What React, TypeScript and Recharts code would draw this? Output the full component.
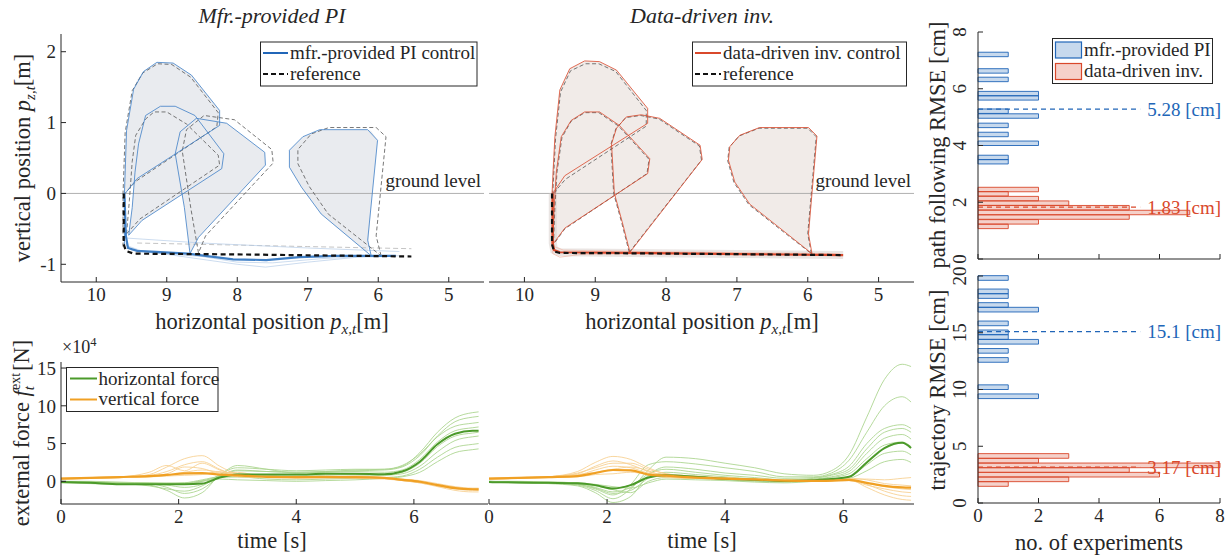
import React from 'react';
import { ComposedChart, Line, Area, XAxis, YAxis, ReferenceLine, ReferenceArea } from 'recharts';

const FONT = '"Liberation Serif", "Times New Roman", serif';
const INK = '#262626';
const BLUE = '#2166b8';
const BLUE_THIN = '#3f7fc6';
const RED = '#d9482b';
const GREEN = '#4b9a2a';
const GREEN_LIGHT = '#a9d38c';
const ORANGE = '#f0a024';
const ORANGE_LIGHT = '#f7cf8e';

type Pt = [number, number];
type Band = [number, number, number];

// ---- tick values ----
const TRAJ_X_TICKS = [5, 6, 7, 8, 9, 10];
const TRAJ_Y_TICKS = [-1, 0, 1, 2];
const FORCE_Y_TICKS = [0, 5, 10, 15];
const TIME_TICKS = [0, 2, 4, 6];
const HIST_X_TICKS = [0, 2, 4, 6, 8];
const PATH_RMSE_TICKS = [0, 2, 4, 6, 8];
const TRAJ_RMSE_TICKS = [0, 5, 10, 15, 20];

// ---- mfr.-provided PI trajectories [px, pz] ----
const piFillA: Band[] = [[9.6, 0, 0.3], [9.57, 0.03, 0.89], [9.47, 0.16, 1.47], [9.42, 0.21, 1.6], [9.33, 0.27, 1.72], [9.14, 0.39, 1.85], [8.91, 0.54, 1.84], [8.65, 0.7, 1.67], [8.25, 0.96, 1.17]];
const piFillB: Band[] = [[9.54, -0.59, -0.59], [9.49, -0.53, -0.2], [9.45, -0.48, 0.3], [9.4, -0.43, 0.7], [9.35, -0.38, 0.95], [9.3, -0.35, 1.1], [9.09, -0.21, 1.23], [8.88, -0.08, 1.23], [8.6, 0.1, 1.1], [8.22, 0.35, 0.6]];
const piFillC: Band[] = [[8.88, 0.56, 0.56], [8.81, 0.15, 0.87], [8.75, -0.2, 0.92], [8.67, -0.85, 0.99], [8.58, -0.68, 1.06], [8.55, -0.62, 1.06], [8.15, -0.19, 0.99], [7.61, 0.39, 0.58], [7.6, 0.4, 0.4]];
const piFillD: Band[] = [[7.26, 0.37, 0.61], [7.07, 0.06, 0.8], [6.81, -0.29, 0.9], [6.5, -0.55, 0.9], [6.15, -0.84, 0.9], [6.1, -0.16, 0.88], [6.01, 0.75, 0.75]];

const piCtrlA: Pt[] = [[9.6, -0.75], [9.6, 0.0], [9.57, 0.89], [9.47, 1.47], [9.33, 1.72], [9.14, 1.85], [8.91, 1.84], [8.65, 1.67], [8.25, 1.17], [8.25, 0.96], [9.42, 0.21], [9.59, 0.0]];
const piRefA: Pt[] = [[9.62, -0.75], [9.62, 0.0], [9.59, 0.86], [9.49, 1.45], [9.34, 1.7], [9.13, 1.83], [8.93, 1.82], [8.66, 1.64], [8.27, 1.14], [8.29, 0.94], [9.44, 0.17], [9.61, -0.02]];
const piCtrlB: Pt[] = [[9.54, -0.59], [9.49, -0.2], [9.45, 0.3], [9.4, 0.7], [9.3, 1.1], [9.09, 1.23], [8.88, 1.23], [8.6, 1.1], [8.19, 0.56], [8.22, 0.35], [9.35, -0.38], [9.54, -0.59]];
const piRefB: Pt[] = [[9.57, -0.57], [9.53, -0.1], [9.49, 0.45], [9.44, 0.82], [9.3, 1.05], [9.18, 1.15], [9.0, 1.15], [8.72, 0.98], [8.27, 0.54], [8.25, 0.4], [9.38, -0.36], [9.57, -0.57]];
const piCtrlC: Pt[] = [[8.67, -0.85], [8.75, -0.2], [8.88, 0.56], [8.81, 0.87], [8.58, 1.06], [8.15, 0.99], [7.61, 0.58], [7.6, 0.4], [8.55, -0.62], [8.67, -0.85]];
const piRefC: Pt[] = [[8.55, -0.84], [8.66, -0.2], [8.78, 0.6], [8.72, 0.9], [8.47, 1.1], [8.04, 1.04], [7.51, 0.62], [7.49, 0.43], [8.45, -0.6], [8.55, -0.84]];
const piCtrlD: Pt[] = [[6.1, -0.88], [6.15, -0.66], [6.01, 0.75], [6.15, 0.9], [6.83, 0.9], [7.07, 0.8], [7.26, 0.61], [7.26, 0.37], [7.09, 0.09], [6.81, -0.29], [6.1, -0.88]];
const piRefD: Pt[] = [[5.96, -0.88], [6.03, -0.6], [5.89, 0.8], [6.03, 0.93], [6.7, 0.93], [6.95, 0.84], [7.14, 0.62], [7.14, 0.42], [6.98, 0.1], [6.71, -0.29], [5.96, -0.88]];

const piRefPath: Pt[] = [[9.61, 0.0], [9.61, -0.72], [9.58, -0.81], [9.47, -0.85], [8.06, -0.86], [5.53, -0.89]];
const piMeanPath: Pt[] = [[9.6, 0.0], [9.58, -0.6], [9.55, -0.77], [9.42, -0.81], [8.7, -0.85], [8.06, -0.93], [7.59, -0.94], [7.12, -0.9], [6.6, -0.88], [5.75, -0.88]];
const piRun1: Pt[] = [[9.6, -0.7], [9.5, -0.8], [9.0, -0.86], [8.0, -1.0], [7.6, -1.04], [7.0, -0.97], [6.3, -0.9], [5.8, -0.89]];
const piRun2: Pt[] = [[9.56, -0.74], [9.3, -0.83], [8.5, -0.89], [8.0, -0.97], [7.5, -0.98], [6.8, -0.92], [6.0, -0.88], [5.7, -0.88]];
const piRun3: Pt[] = [[9.57, -0.63], [8.5, -0.7], [7.0, -0.77], [5.7, -0.82]];
const piRefRun: Pt[] = [[9.42, -0.7], [7.0, -0.75], [5.53, -0.78]];

// ---- data-driven inv. trajectories ----
const ddFillA: Band[] = [[9.61, 0, 0.3], [9.57, 0.04, 0.8], [9.5, 0.13, 1.46], [9.43, 0.25, 1.62], [9.36, 0.29, 1.76], [9.15, 0.43, 1.87], [8.94, 0.56, 1.86], [8.7, 0.72, 1.74], [8.26, 0.99, 1.2]];
const ddFillB: Band[] = [[9.6, -0.72, -0.72], [9.58, -0.69, -0.2], [9.55, -0.65, 0.3], [9.48, -0.56, 0.8], [9.43, -0.49, 0.92], [9.34, -0.43, 1.03], [9.15, -0.31, 1.15], [8.94, -0.18, 1.15], [8.66, 0.0, 0.96], [8.26, 0.28, 0.52]];
const ddFillC: Band[] = [[8.77, 0.7, 0.7], [8.73, 0.0, 0.78], [8.7, -0.12, 0.92], [8.62, -0.4, 1.02], [8.56, -0.62, 1.08], [8.51, -0.83, 1.09], [8.35, -0.62, 1.11], [8.09, -0.29, 1.06], [7.52, 0.44, 0.68], [7.49, 0.48, 0.48]];
const ddFillD: Band[] = [[7.12, 0.47, 0.47], [7.1, 0.4, 0.66], [7.03, 0.16, 0.75], [6.96, 0.06, 0.82], [6.82, -0.15, 0.88], [6.68, -0.26, 0.93], [6.3, -0.56, 0.93], [5.99, -0.81, 0.93], [5.94, 0.0, 0.88], [5.87, 0.81, 0.81]];

const ddCtrlA: Pt[] = [[9.61, -0.75], [9.61, 0.0], [9.57, 0.8], [9.5, 1.46], [9.36, 1.76], [9.15, 1.87], [8.94, 1.86], [8.7, 1.74], [8.26, 1.2], [8.26, 0.99], [9.43, 0.25], [9.6, 0.0]];
const ddRefA: Pt[] = [[9.6, -0.75], [9.6, 0.0], [9.56, 0.78], [9.49, 1.43], [9.35, 1.73], [9.14, 1.83], [8.95, 1.83], [8.71, 1.72], [8.28, 1.17], [8.28, 0.95], [9.42, 0.2], [9.59, 0.0]];
const ddCtrlB: Pt[] = [[9.6, -0.72], [9.58, -0.2], [9.55, 0.3], [9.48, 0.8], [9.34, 1.03], [9.15, 1.15], [8.94, 1.15], [8.66, 0.96], [8.23, 0.49], [8.26, 0.28], [9.43, -0.49], [9.6, -0.72]];
const ddRefB: Pt[] = [[9.59, -0.72], [9.57, -0.2], [9.54, 0.3], [9.47, 0.79], [9.34, 1.02], [9.15, 1.14], [8.95, 1.14], [8.67, 0.95], [8.24, 0.48], [8.27, 0.28], [9.43, -0.5], [9.59, -0.72]];
const ddCtrlC: Pt[] = [[8.51, -0.83], [8.62, -0.4], [8.73, 0.0], [8.77, 0.7], [8.7, 0.92], [8.56, 1.08], [8.35, 1.11], [8.09, 1.06], [7.52, 0.68], [7.49, 0.48], [8.51, -0.83]];
const ddRefC: Pt[] = [[8.52, -0.83], [8.63, -0.4], [8.74, 0.0], [8.78, 0.69], [8.71, 0.91], [8.57, 1.07], [8.36, 1.1], [8.1, 1.05], [7.53, 0.67], [7.5, 0.47], [8.52, -0.83]];
const ddCtrlD: Pt[] = [[5.94, -0.85], [5.99, -0.57], [5.87, 0.81], [5.99, 0.93], [6.68, 0.93], [6.96, 0.82], [7.1, 0.66], [7.12, 0.47], [7.03, 0.16], [6.82, -0.15], [5.94, -0.85]];
const ddRefD: Pt[] = [[5.95, -0.85], [6.0, -0.57], [5.88, 0.8], [6.0, 0.92], [6.69, 0.92], [6.97, 0.81], [7.11, 0.65], [7.13, 0.46], [7.04, 0.15], [6.83, -0.16], [5.95, -0.85]];

const ddRefPath: Pt[] = [[9.61, 0.0], [9.61, -0.72], [9.58, -0.82], [9.5, -0.84], [8.5, -0.845], [5.5, -0.87]];
const ddMeanPath: Pt[] = [[9.6, 0.0], [9.6, -0.7], [9.58, -0.8], [9.5, -0.83], [8.5, -0.84], [5.5, -0.87]];
const ddRun1: Pt[] = [[9.62, -0.6], [9.6, -0.85], [9.5, -0.9], [9.2, -0.86], [8.0, -0.85], [5.6, -0.86]];
const ddRun2: Pt[] = [[9.58, -0.75], [9.45, -0.8], [9.0, -0.81], [7.5, -0.83], [5.55, -0.85]];

// ---- external forces (x 1e4 N) ----
const piTime = [0, 0.5, 1, 1.5, 1.8, 2.1, 2.4, 2.7, 3, 3.5, 4, 4.5, 5, 5.5, 5.8, 6.1, 6.4, 6.7, 7, 7.1];
const piHMean = [-0.1, -0.2, -0.4, -0.4, -0.4, -0.4, -0.3, 0.5, 0.9, 0.9, 0.9, 1.0, 1.0, 0.95, 1.3, 2.6, 4.9, 6.3, 6.7, 6.7];
const piVMean = [0.35, 0.45, 0.57, 0.7, 0.85, 1.05, 1.1, 0.9, 0.8, 0.6, 0.57, 0.57, 0.57, 0.45, 0.2, -0.05, -0.5, -0.9, -1.05, -1.06];
const piHRuns = [
  [0, -0.1, -0.3, -0.5, -1.2, -2.2, -1.5, 0.8, 1.8, 1.6, 1.4, 1.5, 1.6, 1.6, 2.0, 3.8, 6.5, 8.4, 9.1, 9.2],
  [0, -0.1, -0.2, -0.3, -0.8, -1.6, -1.0, 0.6, 1.4, 1.3, 1.2, 1.3, 1.4, 1.5, 1.9, 3.4, 6.0, 7.9, 8.5, 8.6],
  [-0.2, -0.3, -0.4, -0.4, -0.5, -0.8, -0.4, 0.9, 2.1, 1.6, 1.1, 1.2, 1.3, 1.2, 1.5, 2.9, 5.2, 6.7, 7.1, 7.2],
  [-0.1, -0.2, -0.3, -0.4, -0.4, -0.4, 0.0, 0.7, 1.0, 0.8, 0.7, 0.8, 0.9, 0.9, 1.2, 2.4, 4.6, 6.0, 6.4, 6.5],
  [0, -0.1, -0.2, -0.2, -0.3, -0.3, 0.1, 0.5, 0.6, 0.5, 0.5, 0.6, 0.7, 0.8, 1.0, 2.0, 3.9, 5.4, 5.9, 6.0],
  [-0.1, -0.1, -0.2, -0.3, -0.3, -0.2, 0.2, 0.6, 0.6, 0.3, 0.2, 0.3, 0.4, 0.5, 0.7, 1.6, 3.2, 4.5, 4.9, 5.0],
  [0, 0, -0.1, -0.2, -0.2, -0.2, 0.0, 0.3, 0.2, 0.1, 0.0, 0.1, 0.2, 0.4, 0.6, 1.2, 2.6, 3.8, 4.2, 4.3],
  [-0.1, -0.2, -0.3, -0.6, -1.0, -1.3, -0.6, 0.7, 1.5, 1.3, 1.2, 1.3, 1.5, 1.6, 2.1, 3.6, 5.9, 7.3, 7.7, 7.8],
];
const piVRuns = [
  [0.3, 0.4, 0.5, 0.9, 1.9, 3.0, 3.4, 2.0, 1.0, 0.7, 0.6, 0.6, 0.5, 0.4, 0.2, -0.1, -0.6, -1.0, -1.2, -1.2],
  [0.4, 0.5, 0.6, 1.2, 2.1, 1.4, 2.4, 1.5, 0.9, 0.7, 0.6, 0.7, 0.6, 0.5, 0.3, 0.0, -0.4, -0.8, -1.0, -1.0],
  [0.3, 0.4, 0.5, 0.7, 1.0, 1.9, 1.7, 1.1, 1.2, 0.5, 0.4, 0.5, 0.5, 0.4, 0.1, -0.2, -0.7, -1.2, -1.4, -1.4],
  [0.4, 0.5, 0.6, 0.6, 0.7, 0.8, 0.9, 1.3, 0.7, 0.6, 0.7, 0.6, 0.7, 0.5, 0.3, 0.1, -0.3, -0.7, -0.9, -0.9],
  [0.3, 0.4, 0.5, 0.6, 0.8, 1.2, 1.5, 1.2, 0.6, 0.5, 0.5, 0.5, 0.4, 0.3, 0.1, -0.2, -0.6, -0.9, -1.1, -1.1],
  [0.4, 0.5, 0.6, 0.8, 1.3, 2.2, 2.6, 1.6, 0.8, 0.6, 0.6, 0.6, 0.6, 0.5, 0.2, -0.1, -0.5, -0.9, -1.0, -1.0],
];

const ddTime = [0, 0.5, 1, 1.5, 1.8, 2.1, 2.4, 2.7, 3, 3.5, 4, 4.5, 5, 5.5, 5.8, 6.1, 6.4, 6.7, 7, 7.15];
const ddHMean = [-0.1, -0.15, -0.2, -0.25, -0.5, -0.95, -0.5, 0.5, 0.8, 0.6, 0.35, 0.2, 0.05, 0.15, 0.3, 0.6, 2.5, 4.4, 5.1, 4.4];
const ddVMean = [0.35, 0.45, 0.57, 0.7, 1.1, 1.5, 1.45, 0.9, 0.75, 0.5, 0.35, 0.25, 0.1, 0.05, 0.1, 0.2, -0.2, -0.6, -0.8, -0.84];
const ddHRuns = [
  [-0.1, -0.1, -0.2, -0.5, -1.2, -2.3, -1.0, 1.5, 3.2, 3.0, 2.4, 1.8, 1.0, 0.8, 1.4, 3.5, 8.5, 13.5, 15.5, 15.2],
  [0, -0.1, -0.2, -0.4, -1.0, -1.8, -0.4, 2.2, 2.6, 2.3, 1.8, 1.3, 0.6, 0.6, 1.1, 2.8, 6.5, 10.0, 11.2, 10.5],
  [-0.1, -0.2, -0.3, -0.6, -1.5, -2.8, -2.0, 0.8, 1.9, 1.6, 1.1, 0.8, 0.4, 0.5, 0.9, 2.0, 5.0, 7.0, 7.5, 7.0],
  [0, -0.1, -0.2, -0.3, -0.8, -1.4, -0.8, 1.0, 1.6, 1.2, 0.8, 0.5, 0.2, 0.4, 0.8, 1.6, 4.3, 6.5, 7.0, 6.5],
  [-0.1, -0.1, -0.2, -0.4, -0.9, -1.6, -1.2, 0.4, 1.2, 0.9, 0.6, 0.3, 0.1, 0.3, 0.6, 1.3, 3.7, 5.7, 6.2, 5.6],
  [0, -0.1, -0.1, -0.2, -0.5, -0.9, -0.5, 0.6, 0.8, 0.6, 0.4, 0.2, 0.0, 0.2, 0.5, 1.0, 3.0, 4.8, 5.2, 4.6],
  [-0.1, -0.2, -0.2, -0.3, -0.6, -1.1, -1.5, 0.0, 0.5, 0.4, 0.2, 0.0, -0.1, 0.1, 0.3, 0.6, 2.2, 3.7, 4.0, 3.5],
  [0, 0, -0.1, -0.2, -0.4, -0.7, -0.9, -0.2, 0.3, 0.2, 0.1, -0.1, -0.2, 0.0, 0.2, 0.4, 1.4, 2.6, 2.9, 2.5],
];
const ddVRuns = [
  [0.3, 0.4, 0.6, 1.3, 2.5, 3.3, 2.9, 1.8, 1.0, 0.7, 0.5, 0.3, 0.1, 0.0, 0.1, 0.3, -0.4, -1.3, -1.9, -2.0],
  [0.4, 0.5, 0.6, 1.0, 2.0, 2.7, 2.2, 1.3, 0.8, 0.5, 0.4, 0.3, 0.2, 0.1, 0.2, 0.4, 0.2, -0.3, -0.5, -0.6],
  [0.3, 0.4, 0.5, 0.8, 1.5, 2.0, 1.8, 1.1, 0.9, 0.6, 0.3, 0.2, 0.0, 0.0, 0.0, 0.1, -0.5, -1.0, -1.4, -1.5],
  [0.4, 0.5, 0.6, 0.9, 1.2, 1.6, 1.9, 1.4, 0.6, 0.4, 0.4, 0.3, 0.2, 0.1, 0.2, 0.3, 0.3, 0.2, 0.4, 0.5],
  [0.3, 0.4, 0.5, 0.6, 0.9, 1.0, 1.2, 0.9, 0.5, 0.4, 0.3, 0.2, 0.1, 0.0, 0.0, 0.1, -0.2, -0.7, -1.0, -1.1],
  [0.4, 0.5, 0.6, 1.1, 1.8, 2.4, 2.4, 1.6, 1.0, 0.6, 0.4, 0.3, 0.1, 0.1, 0.1, 0.2, -0.8, -1.8, -2.4, -2.5],
];

// ---- RMSE histograms: lower bin edges [cm] and counts ----
const piPathBins = [3.35, 3.5, 4.0, 4.31, 4.63, 4.96, 5.13, 5.6, 5.75, 6.25, 6.55, 7.13];
const piPathCounts = [1, 1, 2, 1, 1, 2, 1, 2, 2, 1, 1, 1];
const ddPathBins = [1.07, 1.23, 1.4, 1.56, 1.73, 1.89, 2.05, 2.22, 2.37];
const ddPathCounts = [1, 2, 5, 7, 5, 3, 2, 1, 2];
const PATH_BIN_W = 0.157;
const piTrajBins = [9.2, 10.0, 12.4, 13.2, 14.0, 14.42, 14.83, 15.62, 16.83, 17.24, 18.03, 18.44, 19.62];
const piTrajCounts = [2, 1, 1, 1, 2, 1, 1, 1, 2, 1, 1, 1, 1];
const ddTrajBins = [1.47, 1.88, 2.29, 2.7, 3.11, 3.52, 3.94];
const ddTrajCounts = [1, 3, 6, 5, 8, 2, 3];
const TRAJ_BIN_W = 0.41;
const PATH_MEANS = [5.28, 1.83];
const TRAJ_MEANS = [15.1, 3.17];
const MEAN_LABELS_PATH = ['5.28 [cm]', '1.83 [cm]'];
const MEAN_LABELS_TRAJ = ['15.1 [cm]', '3.17 [cm]'];

const xy = (pts: Pt[]) => pts.map(([x, y]) => ({ x, y }));
const band = (pts: Band[]) => pts.map(([x, lo, hi]) => ({ x, r: [lo, hi] }));
const TICK_FS = 19;
const LABEL_FS = 22.5;
const LEGEND_FS = 19;
const tickStyle = { fontSize: TICK_FS, fill: INK, fontFamily: FONT };
const blank = () => '';

function RotTick(props: any) {
  const { x, y, payload } = props;
  return (
    <text x={x} y={y} transform={`rotate(-90 ${x} ${y})`} textAnchor="middle" fontSize={TICK_FS} fill={INK} fontFamily={FONT}>
      {payload.value}
    </text>
  );
}

interface TrajProps {
  left: number;
  width: number;
  margin: { top: number; right: number; bottom: number; left: number };
  yAxisWidth: number;
  showYLabels: boolean;
  fills: Band[][];
  fillColor: string;
  ctrl: Pt[][];
  refs: Pt[][];
  color: string;
  runs: Pt[][];
  runColor: string;
  refRuns: Pt[][];
  meanPath: Pt[];
  refPath: Pt[];
  haloColor?: string;
}

function TrajectoryPanel(p: TrajProps) {
  const lineBase = { type: 'linear' as const, dataKey: 'y', dot: false, activeDot: false, isAnimationActive: false };
  return (
    <div style={{ position: 'absolute', left: p.left, top: 0 }}>
      <ComposedChart width={p.width} height={340} margin={p.margin}>
        <XAxis type="number" dataKey="x" domain={[4.5, 10.5]} reversed ticks={TRAJ_X_TICKS} allowDataOverflow interval={0}
          height={30} tickSize={-5} tickMargin={11} stroke={INK} tick={tickStyle} />
        <XAxis xAxisId="top" orientation="top" type="number" dataKey="x" domain={[4.5, 10.5]} reversed ticks={TRAJ_X_TICKS}
          allowDataOverflow interval={0} height={0} tickSize={-5} stroke={INK} tickFormatter={blank} />
        <YAxis type="number" domain={[-1.25, 2.25]} ticks={TRAJ_Y_TICKS} allowDataOverflow interval={0} width={p.yAxisWidth}
          tickSize={-5} tickMargin={10} stroke={INK} tick={tickStyle} tickFormatter={p.showYLabels ? undefined : blank} />
        <YAxis yAxisId="right" orientation="right" type="number" domain={[-1.25, 2.25]} ticks={TRAJ_Y_TICKS} allowDataOverflow
          interval={0} width={0} tickSize={-5} stroke={INK} tickFormatter={blank} />
        {p.fills.map((f, i) => (
          <Area key={`f${i}`} data={band(f)} dataKey="r" type="linear" stroke="none" fill={p.fillColor} fillOpacity={1}
            dot={false} activeDot={false} isAnimationActive={false} />
        ))}
        <ReferenceLine y={0} stroke="#a8a8a8" strokeWidth={0.9}
          label={(lp: any) => {
            const vb = lp.viewBox || {};
            return (
              <text x={vb.x + vb.width - 3} y={vb.y - 6} textAnchor="end" fontSize={LEGEND_FS} fill={INK} fontFamily={FONT}>
                ground level
              </text>
            );
          }} />
        {p.refRuns.map((r, i) => (
          <Line key={`rr${i}`} {...lineBase} data={xy(r)} stroke="#bdbdbd" strokeWidth={0.9} strokeDasharray="5 3" />
        ))}
        {p.haloColor && (
          <Line {...lineBase} data={xy(p.meanPath)} stroke={p.haloColor} strokeWidth={8} strokeOpacity={0.55} />
        )}
        {p.runs.map((r, i) => (
          <Line key={`r${i}`} {...lineBase} data={xy(r)} stroke={p.runColor} strokeWidth={1} strokeOpacity={0.7} />
        ))}
        {p.refs.map((r, i) => (
          <Line key={`ref${i}`} {...lineBase} data={xy(r)} stroke="#555555" strokeWidth={0.8} strokeDasharray="4 2.5" />
        ))}
        {p.ctrl.map((r, i) => (
          <Line key={`c${i}`} {...lineBase} data={xy(r)} stroke={p.color} strokeWidth={0.8} />
        ))}
        <Line {...lineBase} data={xy(p.meanPath)} stroke={p.color} strokeWidth={2.2} />
        <Line {...lineBase} data={xy(p.refPath)} stroke="#111111" strokeWidth={2.2} strokeDasharray="5 3.5" />
      </ComposedChart>
    </div>
  );
}

interface ForceProps {
  left: number;
  width: number;
  margin: { top: number; right: number; bottom: number; left: number };
  yAxisWidth: number;
  showYLabels: boolean;
  tMax: number;
  time: number[];
  hMean: number[];
  vMean: number[];
  hRuns: number[][];
  vRuns: number[][];
}

function ForcePanel(p: ForceProps) {
  const rows = p.time.map((t, i) => {
    const row: Record<string, number> = { t, hm: p.hMean[i], vm: p.vMean[i] };
    p.hRuns.forEach((r, k) => (row[`h${k}`] = r[i]));
    p.vRuns.forEach((r, k) => (row[`v${k}`] = r[i]));
    return row;
  });
  const base = { type: 'monotone' as const, dot: false, activeDot: false, isAnimationActive: false };
  return (
    <div style={{ position: 'absolute', left: p.left, top: 330 }}>
      <ComposedChart width={p.width} height={229} margin={p.margin} data={rows}>
        <XAxis type="number" dataKey="t" domain={[0, p.tMax]} ticks={TIME_TICKS} allowDataOverflow interval={0}
          height={30} tickSize={-5} tickMargin={11} stroke={INK} tick={tickStyle} />
        <YAxis type="number" domain={[-3, 15.8]} ticks={FORCE_Y_TICKS} allowDataOverflow interval={0} width={p.yAxisWidth}
          tickSize={-5} tickMargin={10} stroke={INK} tick={tickStyle} tickFormatter={p.showYLabels ? undefined : blank} />
        {p.hRuns.map((_, k) => (
          <Line key={`h${k}`} {...base} dataKey={`h${k}`} stroke={GREEN_LIGHT} strokeWidth={1} strokeOpacity={0.85} />
        ))}
        {p.vRuns.map((_, k) => (
          <Line key={`v${k}`} {...base} dataKey={`v${k}`} stroke={ORANGE_LIGHT} strokeWidth={1} strokeOpacity={0.85} />
        ))}
        <Line {...base} dataKey="hm" stroke={GREEN} strokeWidth={2} />
        <Line {...base} dataKey="vm" stroke={ORANGE} strokeWidth={2.2} />
      </ComposedChart>
    </div>
  );
}

interface HistProps {
  top: number;
  height: number;
  margin: { top: number; right: number; bottom: number; left: number };
  xAxisHeight: number;
  showXLabels: boolean;
  yMax: number;
  yTicks: number[];
  binW: number;
  blueBins: number[];
  blueCounts: number[];
  redBins: number[];
  redCounts: number[];
  means: number[];
  meanLabels: string[];
}

function HistPanel(p: HistProps) {
  const series = [
    { bins: p.blueBins, counts: p.blueCounts, color: BLUE },
    { bins: p.redBins, counts: p.redCounts, color: RED },
  ];
  const rows = series.flatMap((s) => s.bins.map((lo, i) => ({ x: s.counts[i], y: lo })));
  return (
    <div style={{ position: 'absolute', left: 930, top: p.top }}>
      <ComposedChart width={299} height={p.height} margin={p.margin} data={rows}>
        <XAxis type="number" dataKey="x" domain={[0, 8]} ticks={HIST_X_TICKS} allowDataOverflow interval={0} height={p.xAxisHeight}
          tickSize={-5} tickMargin={11} stroke={INK} tick={tickStyle} tickFormatter={p.showXLabels ? undefined : blank} />
        <YAxis type="number" dataKey="y" domain={[0, p.yMax]} ticks={p.yTicks} allowDataOverflow interval={0} width={48}
          tickSize={-5} tickMargin={17} stroke={INK} tick={<RotTick />} />
        {p.means.map((m, i) => (
          <ReferenceLine key={`m${i}`} segment={[{ x: 0, y: m }, { x: 5.36, y: m }]} stroke={series[i].color}
            strokeWidth={1.2} strokeDasharray="5 4" ifOverflow="visible"
            label={{ value: p.meanLabels[i], position: 'right', offset: 7, fill: series[i].color, fontSize: LEGEND_FS, fontFamily: FONT }} />
        ))}
        {series.map((s, si) =>
          s.bins.map((lo, i) => (
            <ReferenceArea key={`b${si}-${i}`} x1={0} x2={s.counts[i]} y1={lo} y2={lo + p.binW} fill={s.color}
              fillOpacity={0.25} stroke={s.color} strokeWidth={1} strokeOpacity={0.9} ifOverflow="visible" />
          ))
        )}
      </ComposedChart>
    </div>
  );
}

function Overlay() {
  const t = { fontFamily: FONT, fill: INK };
  return (
    <svg width={1229} height={559} style={{ position: 'absolute', left: 0, top: 0, pointerEvents: 'none' }}>
      {/* titles */}
      <text x={272} y={23} textAnchor="middle" fontSize={22} fontStyle="italic" {...t}>Mfr.-provided PI</text>
      <text x={702} y={23} textAnchor="middle" fontSize={22} fontStyle="italic" {...t}>Data-driven inv.</text>

      {/* axis labels */}
      {[272, 702].map((cx) => (
        <text key={cx} x={cx} y={329} textAnchor="middle" fontSize={LABEL_FS} {...t}>
          horizontal position <tspan fontStyle="italic">p</tspan>
          <tspan fontSize={15} fontStyle="italic" dy={5}>x,t</tspan>
          <tspan dy={-5}>[m]</tspan>
        </text>
      ))}
      {[272, 702].map((cx) => (
        <text key={`t${cx}`} x={cx} y={548} textAnchor="middle" fontSize={LABEL_FS} {...t}>time [s]</text>
      ))}
      <text transform="translate(30,158) rotate(-90)" textAnchor="middle" fontSize={LABEL_FS} {...t}>
        vertical position <tspan fontStyle="italic">p</tspan>
        <tspan fontSize={15} fontStyle="italic" dy={5}>z,t</tspan>
        <tspan dy={-5}>[m]</tspan>
      </text>
      <text transform="translate(29,433) rotate(-90)" textAnchor="middle" fontSize={LABEL_FS} {...t}>
        external force <tspan fontStyle="italic">f</tspan>
        <tspan fontSize={15} fontStyle="italic" dy={5}>t</tspan>
        <tspan fontSize={14} dx={-4} dy={-14}>ext</tspan>
        <tspan dx={2} dy={9}>[N]</tspan>
      </text>
      <text x={62} y={353} fontSize={18} {...t}>
        ×10<tspan fontSize={12.5} dy={-7}>4</tspan>
      </text>
      <text transform="translate(945,145) rotate(-90)" textAnchor="middle" fontSize={LABEL_FS} {...t}>path following RMSE [cm]</text>
      <text transform="translate(945,390) rotate(-90)" textAnchor="middle" fontSize={LABEL_FS} {...t}>trajectory RMSE [cm]</text>
      <text x={1099} y={550} textAnchor="middle" fontSize={LABEL_FS} {...t}>no. of experiments</text>

      {/* trajectory legends */}
      <rect x={260.5} y={42} width={216.5} height={44} fill="#fff" stroke={INK} strokeWidth={1} />
      <line x1={263} x2={288} y1={53} y2={53} stroke={BLUE} strokeWidth={2} />
      <line x1={263} x2={288} y1={74} y2={74} stroke="#111" strokeWidth={2} strokeDasharray="5 3" />
      <text x={290} y={59} fontSize={LEGEND_FS} {...t}>mfr.-provided PI control</text>
      <text x={290} y={79.5} fontSize={LEGEND_FS} {...t}>reference</text>

      <rect x={692.5} y={42} width={214} height={44} fill="#fff" stroke={INK} strokeWidth={1} />
      <line x1={695} x2={721} y1={53} y2={53} stroke={RED} strokeWidth={2} />
      <line x1={695} x2={721} y1={74} y2={74} stroke="#111" strokeWidth={2} strokeDasharray="5 3" />
      <text x={723} y={59} fontSize={LEGEND_FS} {...t}>data-driven inv. control</text>
      <text x={723} y={79.5} fontSize={LEGEND_FS} {...t}>reference</text>

      {/* force legend */}
      <rect x={66.5} y={367.5} width={151.5} height={44} fill="#fff" stroke={INK} strokeWidth={1} />
      <line x1={70} x2={97} y1={378.5} y2={378.5} stroke={GREEN} strokeWidth={2} />
      <line x1={70} x2={97} y1={399.5} y2={399.5} stroke={ORANGE} strokeWidth={2} />
      <text x={98.5} y={384.5} fontSize={LEGEND_FS} {...t}>horizontal force</text>
      <text x={98.5} y={405} fontSize={LEGEND_FS} {...t}>vertical force</text>

      {/* histogram legend */}
      <rect x={1052.5} y={38.5} width={160} height={45} fill="#fff" stroke={INK} strokeWidth={1} />
      <rect x={1055.5} y={42} width={26} height={16} fill={BLUE} fillOpacity={0.25} stroke={BLUE} strokeWidth={1.2} />
      <rect x={1055.5} y={63.5} width={26} height={16} fill={RED} fillOpacity={0.25} stroke={RED} strokeWidth={1.2} />
      <text x={1084} y={56} fontSize={LEGEND_FS} {...t}>mfr.-provided PI</text>
      <text x={1084} y={76.5} fontSize={LEGEND_FS} {...t}>data-driven inv.</text>
    </svg>
  );
}

export default function App() {
  return (
    <div style={{ position: 'absolute', left: 0, top: 0, width: 1229, height: 559, background: '#fff', overflow: 'hidden' }}>
      <TrajectoryPanel
        left={0} width={490} margin={{ top: 34, right: 6, bottom: 28, left: 21 }} yAxisWidth={40} showYLabels
        fills={[piFillA, piFillB, piFillC, piFillD]} fillColor="#e9ebef"
        ctrl={[piCtrlA, piCtrlB, piCtrlC, piCtrlD]} refs={[piRefA, piRefB, piRefC, piRefD]} color={BLUE_THIN}
        runs={[piRun1, piRun2, piRun3]} runColor="#b7cde8" refRuns={[piRefRun]}
        meanPath={piMeanPath} refPath={piRefPath}
      />
      <TrajectoryPanel
        left={480} width={450} margin={{ top: 34, right: 16, bottom: 28, left: 9 }} yAxisWidth={0} showYLabels={false}
        fills={[ddFillA, ddFillB, ddFillC, ddFillD]} fillColor="#f1ebe8"
        ctrl={[ddCtrlA, ddCtrlB, ddCtrlC, ddCtrlD]} refs={[ddRefA, ddRefB, ddRefC, ddRefD]} color={RED}
        runs={[ddRun1, ddRun2]} runColor="#f2b8a8" refRuns={[]}
        meanPath={ddMeanPath} refPath={ddRefPath} haloColor="#d9cfcc"
      />
      <ForcePanel
        left={0} width={490} margin={{ top: 32, right: 2, bottom: 25, left: 21 }} yAxisWidth={40} showYLabels
        tMax={7.26} time={piTime} hMean={piHMean} vMean={piVMean} hRuns={piHRuns} vRuns={piVRuns}
      />
      <ForcePanel
        left={480} width={450} margin={{ top: 32, right: 16, bottom: 25, left: 9 }} yAxisWidth={0} showYLabels={false}
        tMax={7.2} time={ddTime} hMean={ddHMean} vMean={ddVMean} hRuns={ddHRuns} vRuns={ddVRuns}
      />
      <HistPanel
        top={0} height={280} margin={{ top: 32, right: 9, bottom: 11, left: 0 }} xAxisHeight={10} showXLabels={false}
        yMax={8} yTicks={PATH_RMSE_TICKS} binW={PATH_BIN_W}
        blueBins={piPathBins} blueCounts={piPathCounts} redBins={ddPathBins} redCounts={ddPathCounts}
        means={PATH_MEANS} meanLabels={MEAN_LABELS_PATH}
      />
      <HistPanel
        top={250} height={309} margin={{ top: 26, right: 9, bottom: 26, left: 0 }} xAxisHeight={30} showXLabels
        yMax={20} yTicks={TRAJ_RMSE_TICKS} binW={TRAJ_BIN_W}
        blueBins={piTrajBins} blueCounts={piTrajCounts} redBins={ddTrajBins} redCounts={ddTrajCounts}
        means={TRAJ_MEANS} meanLabels={MEAN_LABELS_TRAJ}
      />
      <Overlay />
    </div>
  );
}
